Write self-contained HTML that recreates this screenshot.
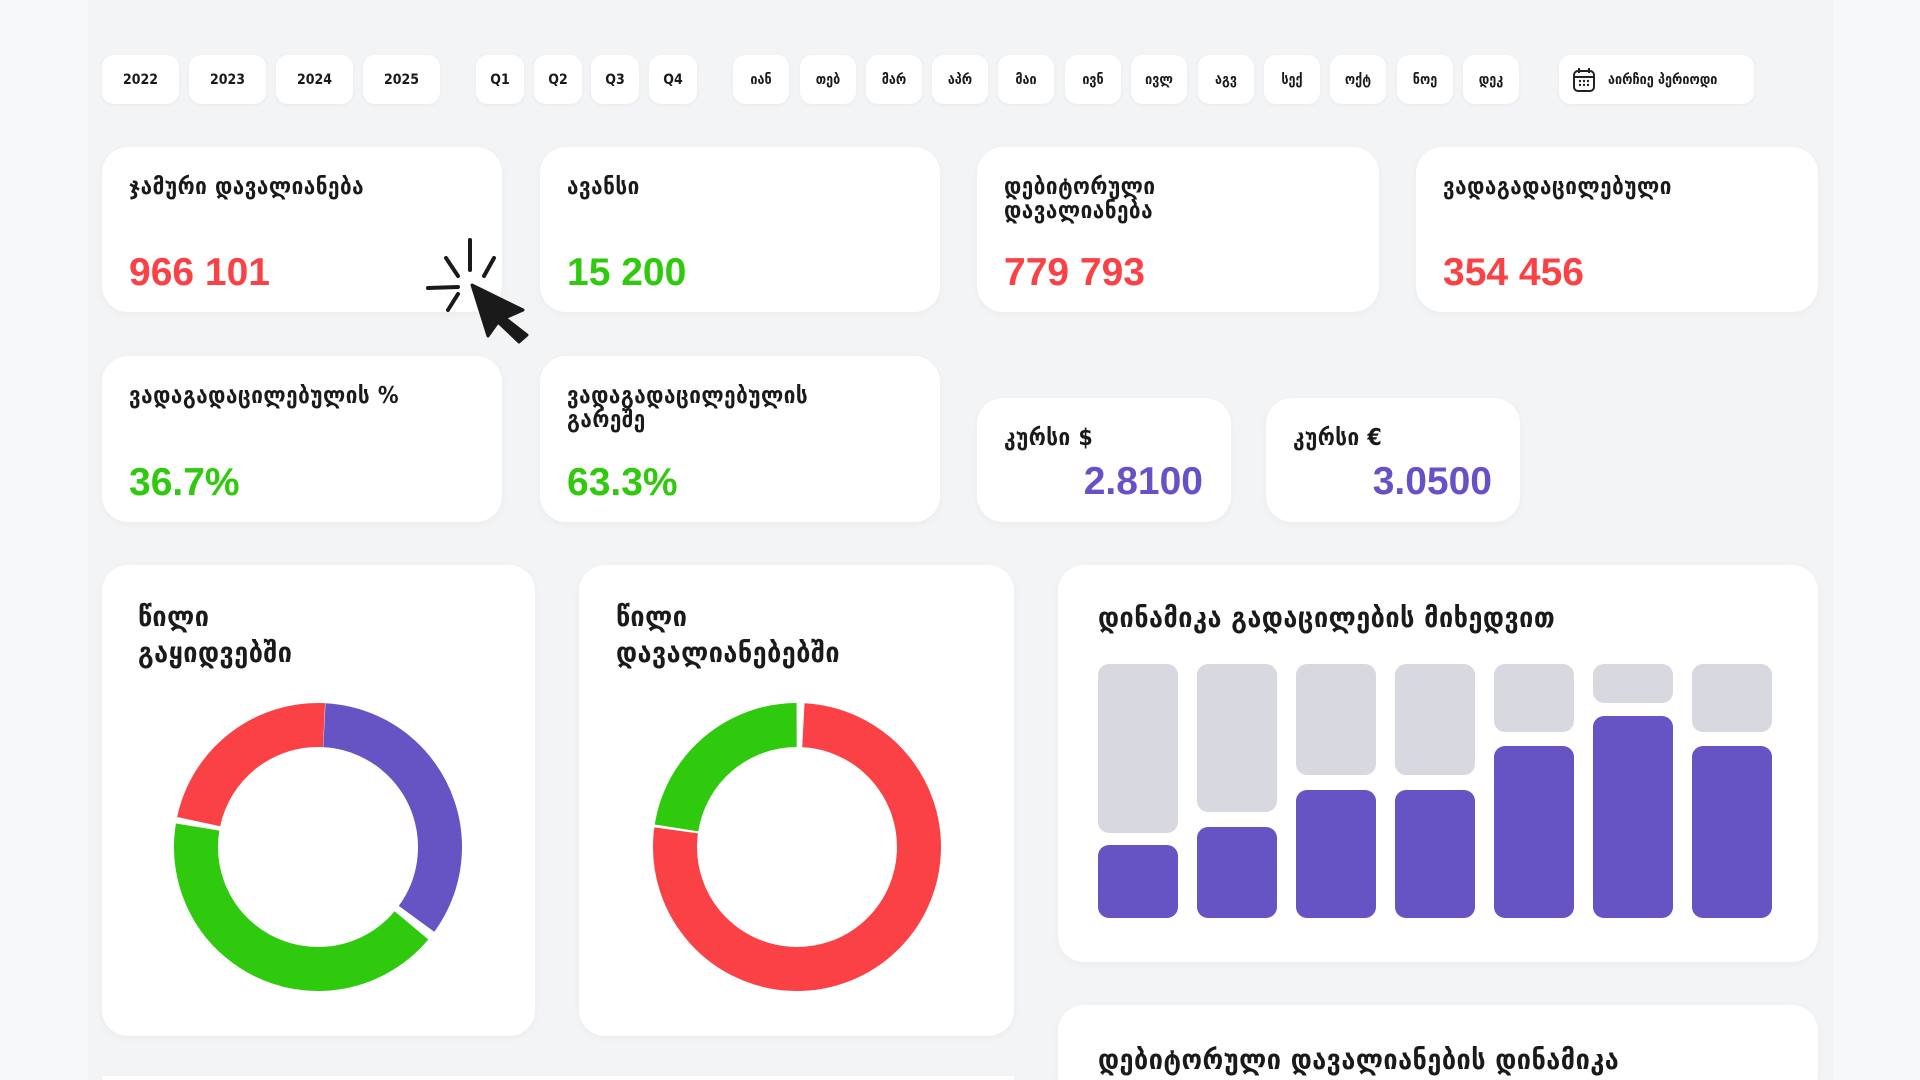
<!DOCTYPE html>
<html style="width:1920px;height:1080px;overflow:hidden"><head><meta charset="utf-8"><style>
*{margin:0;padding:0;box-sizing:border-box}
body{width:1920px;height:1080px;overflow:hidden;background:#f7f8fa;font-family:"DejaVu Sans Condensed","DejaVu Sans","Liberation Sans",sans-serif;color:#1a1a1a;position:relative}
.main{position:absolute;left:88px;top:0;width:1745px;height:1080px;background:#f3f4f6}
.b{position:absolute;top:55px;height:49px;background:#fff;border-radius:12px;box-shadow:0 1px 4px rgba(0,0,0,.05);font-size:14px;font-weight:bold;display:flex;align-items:center;justify-content:center}
.c{position:absolute;background:#fff;border-radius:26px;box-shadow:0 2px 8px rgba(0,0,0,.04)}
.t{position:absolute;left:27px;top:28px;font-size:23px;font-weight:bold;line-height:24px;letter-spacing:0.5px}
.v{position:absolute;left:27px;font-size:39px;font-weight:bold;font-family:"Liberation Sans",sans-serif}
.bar{position:absolute;width:80px;border-radius:11px}
</style></head><body>
<div class="main"></div>
<div class="b" style="left:102px;width:77px">2022</div>
<div class="b" style="left:189px;width:77px">2023</div>
<div class="b" style="left:276px;width:77px">2024</div>
<div class="b" style="left:363px;width:77px">2025</div>
<div class="b" style="left:476px;width:48px">Q1</div>
<div class="b" style="left:534px;width:48px">Q2</div>
<div class="b" style="left:591px;width:48px">Q3</div>
<div class="b" style="left:649px;width:48px">Q4</div>
<div class="b" style="left:733px;width:56px">იან</div>
<div class="b" style="left:800px;width:56px">თებ</div>
<div class="b" style="left:866px;width:56px">მარ</div>
<div class="b" style="left:932px;width:56px">აპრ</div>
<div class="b" style="left:998px;width:56px">მაი</div>
<div class="b" style="left:1065px;width:56px">ივნ</div>
<div class="b" style="left:1131px;width:56px">ივლ</div>
<div class="b" style="left:1198px;width:56px">აგვ</div>
<div class="b" style="left:1264px;width:56px">სექ</div>
<div class="b" style="left:1330px;width:56px">ოქტ</div>
<div class="b" style="left:1397px;width:56px">ნოე</div>
<div class="b" style="left:1463px;width:56px">დეკ</div>
<div class="b" style="left:1559px;width:195px;justify-content:flex-start;padding-left:13px;gap:12px">
<svg width="24" height="26" viewBox="0 0 24 26"><rect x="2" y="4" width="20" height="20" rx="4" fill="none" stroke="#222" stroke-width="2"/><line x1="2" y1="10" x2="22" y2="10" stroke="#222" stroke-width="2"/><line x1="7" y1="1" x2="7" y2="6" stroke="#222" stroke-width="2"/><line x1="17" y1="1" x2="17" y2="6" stroke="#222" stroke-width="2"/><g fill="#222"><circle cx="8" cy="14" r="1.2"/><circle cx="12" cy="14" r="1.2"/><circle cx="16" cy="14" r="1.2"/><circle cx="8" cy="18" r="1.2"/><circle cx="12" cy="18" r="1.2"/><circle cx="16" cy="18" r="1.2"/></g></svg>აირჩიე პერიოდი</div>

<div class="c" style="left:102px;top:147px;width:400px;height:165px"><div class="t">ჯამური დავალიანება</div><div class="v" style="top:104px;color:#fa4246">966 101</div></div>
<div class="c" style="left:540px;top:147px;width:400px;height:165px"><div class="t">ავანსი</div><div class="v" style="top:104px;color:#2fc90e">15 200</div></div>
<div class="c" style="left:977px;top:147px;width:402px;height:165px"><div class="t">დებიტორული<br>დავალიანება</div><div class="v" style="top:104px;color:#fa4246">779 793</div></div>
<div class="c" style="left:1416px;top:147px;width:402px;height:165px"><div class="t">ვადაგადაცილებული</div><div class="v" style="top:104px;color:#fa4246">354 456</div></div>

<div class="c" style="left:102px;top:356px;width:400px;height:166px"><div class="t">ვადაგადაცილებულის %</div><div class="v" style="top:105px;color:#2fc90e">36.7%</div></div>
<div class="c" style="left:540px;top:356px;width:400px;height:166px"><div class="t">ვადაგადაცილებულის<br>გარეშე</div><div class="v" style="top:105px;color:#2fc90e">63.3%</div></div>
<div class="c" style="left:977px;top:398px;width:254px;height:124px"><div class="t">კურსი $</div><div class="v" style="top:62px;left:auto;right:28px;color:#6552c6">2.8100</div></div>
<div class="c" style="left:1266px;top:398px;width:254px;height:124px"><div class="t">კურსი €</div><div class="v" style="top:62px;left:auto;right:28px;color:#6552c6">3.0500</div></div>

<div class="c" style="left:102px;top:565px;width:433px;height:471px"><div class="t" style="left:36px;top:34px;font-size:28px;line-height:36px">წილი<br>გაყიდვებში</div></div>
<div class="c" style="left:579px;top:565px;width:435px;height:471px"><div class="t" style="left:37px;top:34px;font-size:28px;line-height:36px">წილი<br>დავალიანებებში</div></div>
<div class="c" style="left:102px;top:1076px;width:912px;height:4px;border-radius:0"></div>
<svg style="position:absolute;left:0;top:0" width="1920" height="1080">
<g fill="none" stroke-width="44">
<circle cx="318" cy="847" r="122" stroke="#6654c4" stroke-dasharray="262 1000" transform="rotate(-87 318 847)"/>
<circle cx="318" cy="847" r="122" stroke="#2fc90e" stroke-dasharray="318 1000" transform="rotate(40 318 847)"/>
<circle cx="318" cy="847" r="122" stroke="#fa4246" stroke-dasharray="172 1000" transform="rotate(192 318 847)"/>
<circle cx="797" cy="847" r="122" stroke="#fa4246" stroke-dasharray="585 1000" transform="rotate(-87 797 847)"/>
<circle cx="797" cy="847" r="122" stroke="#2fc90e" stroke-dasharray="172 1000" transform="rotate(189 797 847)"/>
</g>
<g stroke="#1a1a1a" stroke-width="4" stroke-linecap="round">
<line x1="470" y1="240" x2="470" y2="270"/><line x1="446" y1="258" x2="458" y2="276"/><line x1="494" y1="258" x2="484" y2="276"/>
<line x1="428" y1="288" x2="458" y2="287"/><line x1="448" y1="310" x2="458" y2="294"/>
</g>
<path d="M472 285 L523 310 L505 318 L527 335 L519 342 L498 322 L488 336 Z" fill="#1a1a1a" stroke="#1a1a1a" stroke-width="3" stroke-linejoin="round"/>
</svg>

<div class="c" style="left:1058px;top:565px;width:760px;height:397px"><div class="t" style="left:40px;top:38px;font-size:28px;line-height:30px">დინამიკა გადაცილების მიხედვით</div></div>
<div class="c" style="left:1058px;top:1005px;width:760px;height:75px;border-radius:26px 26px 0 0"><div class="t" style="left:40px;top:40px;font-size:28px;line-height:30px">დებიტორული დავალიანების დინამიკა</div></div>

<div class="bar" style="left:1098px;top:664px;height:169px;background:#d8d8e0"></div><div class="bar" style="left:1098px;top:845px;height:73px;background:#6654c4"></div>
<div class="bar" style="left:1197px;top:664px;height:148px;background:#d8d8e0"></div><div class="bar" style="left:1197px;top:827px;height:91px;background:#6654c4"></div>
<div class="bar" style="left:1296px;top:664px;height:111px;background:#d8d8e0"></div><div class="bar" style="left:1296px;top:790px;height:128px;background:#6654c4"></div>
<div class="bar" style="left:1395px;top:664px;height:111px;background:#d8d8e0"></div><div class="bar" style="left:1395px;top:790px;height:128px;background:#6654c4"></div>
<div class="bar" style="left:1494px;top:664px;height:68px;background:#d8d8e0"></div><div class="bar" style="left:1494px;top:746px;height:172px;background:#6654c4"></div>
<div class="bar" style="left:1593px;top:664px;height:39px;background:#d8d8e0"></div><div class="bar" style="left:1593px;top:716px;height:202px;background:#6654c4"></div>
<div class="bar" style="left:1692px;top:664px;height:68px;background:#d8d8e0"></div><div class="bar" style="left:1692px;top:746px;height:172px;background:#6654c4"></div>
</body></html>
